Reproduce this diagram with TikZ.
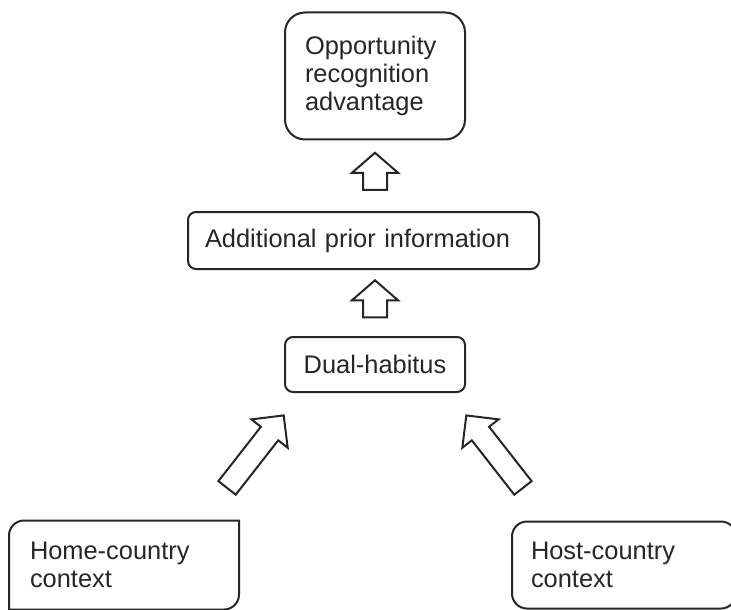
\documentclass[tikz,border=0pt]{standalone}
\usepackage{fontspec}
\setmainfont{Liberation Sans}
\usetikzlibrary{shapes.arrows}

\begin{document}
\begin{tikzpicture}[x=0.5pt,y=-0.5pt,
   box/.style={rectangle,draw=black!85,line width=1pt,rounded corners=4pt,
    inner sep=0pt,text=black!85,font=\fontsize{12.7}{13.9}\selectfont},
   blockarrow/.style={single arrow,draw=black!85,line width=1pt,
    inner xsep=0pt}
    ]
  \useasboundingbox (0,0) rectangle (731,609);

  % -- boxes, top to bottom
  \node[box,rounded corners=10pt,minimum width=90pt,minimum height=63.5pt,
    inner xsep=10pt,text width=70pt,align=left] at (375,76) (opp)
    {Opportunity\\recognition\\advantage};
  \node[box,minimum width=175.5pt,minimum height=28.5pt,
    inner xsep=8.5pt,text width=158.5pt,align=left] at (363.5,240.5) (info)
    {Additional prior information};
  \node[box,minimum width=90pt,minimum height=27.5pt] at (375,364.5) (dual)
    {Dual-habitus};

  % -- contexts
  \node[box,draw=none,minimum height=43.5pt,
    inner xsep=10pt,text width=94pt,align=left] at (124,565) (home)
    {Home-country\\context};
  \draw[black!85,line width=1pt]
    ([yshift=-7.5pt]home.north west) arc[start angle=180,end angle=90,radius=7.5pt]
    -- (home.north east) -- ([yshift=7.5pt]home.south east)
    arc[start angle=0,end angle=-90,radius=7.5pt] -- (home.south west) -- cycle;
  \node[box,rounded corners=7.5pt,minimum height=43.5pt,
    inner xsep=9.5pt,text width=93pt,align=left] at (624,565) (host)
    {Host-country\\context};

  % -- block arrows
  \node[blockarrow,minimum height=18.5pt,inner ysep=5.5pt,single arrow head extend=5.5pt,
    single arrow tip angle=98,rotate=90] at (375,176.5) (up1) {};
  \node[blockarrow,minimum height=18.5pt,inner ysep=5.5pt,single arrow head extend=5.5pt,
    single arrow tip angle=98,rotate=90] at (375,304) (up2) {};
  \node[blockarrow,minimum height=46pt,inner ysep=5pt,single arrow head extend=6pt,
    single arrow tip angle=90,rotate=52] at (252,456) (homeup) {};
  \node[blockarrow,minimum height=46pt,inner ysep=5pt,single arrow head extend=6pt,
    single arrow tip angle=90,rotate=128] at (498,456) (hostup) {};
\end{tikzpicture}
\end{document}
